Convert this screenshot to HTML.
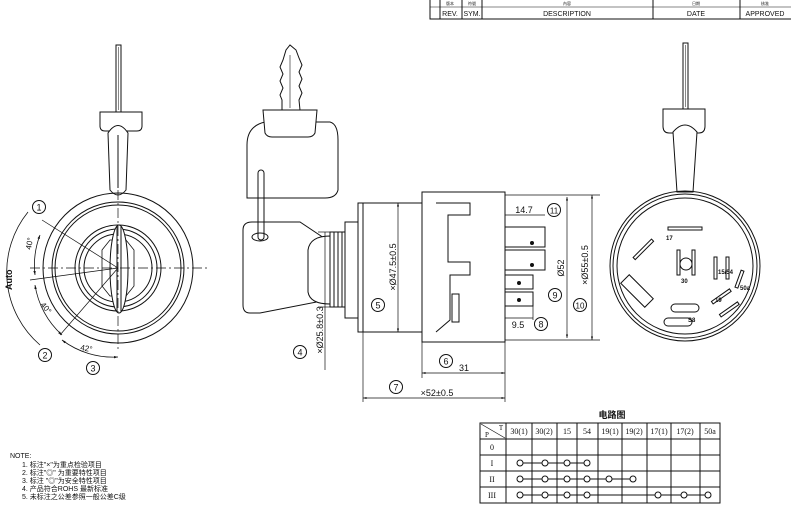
<!DOCTYPE html>
<html><head><meta charset="utf-8"><style>
html,body{margin:0;padding:0;background:#fff;}
svg{display:block;}
text{font-family:"Liberation Sans","Noto Sans CJK SC",sans-serif;fill:#111;}
</style></head><body>
<svg width="791" height="507" viewBox="0 0 791 507" xmlns="http://www.w3.org/2000/svg">
<defs>
<marker id="a" viewBox="0 0 10 10" refX="10" refY="5" markerWidth="5" markerHeight="5" orient="auto-start-reverse"><path d="M0 2 L10 5 L0 8 Z" fill="#111"/></marker>
</defs>
<g stroke="#111" fill="none" stroke-width="1">
<rect x="430" y="-1" width="362" height="20"/>
<line x1="430" y1="7" x2="791" y2="7" stroke-width="0.6"/>
<line x1="440" y1="0" x2="440" y2="19"/><line x1="462" y1="0" x2="462" y2="19"/>
<line x1="482" y1="0" x2="482" y2="19"/><line x1="653" y1="0" x2="653" y2="19"/>
<line x1="740" y1="0" x2="740" y2="19"/>
</g>
<g font-size="7" text-anchor="middle">
<text x="450" y="16">REV.</text><text x="472" y="16">SYM.</text>
<text x="567" y="16">DESCRIPTION</text><text x="696" y="16">DATE</text><text x="765" y="16">APPROVED</text>
<text x="450" y="5" font-size="4">版本</text><text x="472" y="5" font-size="4">符號</text><text x="567" y="5" font-size="4">內容</text><text x="696" y="5" font-size="4">日期</text><text x="765" y="5" font-size="4">核准</text>
</g>

<!-- LEFT VIEW -->
<g stroke="#111" fill="none" stroke-width="1">
<rect x="116" y="45" width="5" height="67"/>
<line x1="118.5" y1="47" x2="118.5" y2="110" stroke-width="0.5"/>
<path d="M100 112 H142 V126 Q142 131 137 131 H105 Q100 131 100 126 Z" fill="#fff"/>
<path d="M108 133 Q118 118 128 133 L126 190 Q118 200 110 190 Z" fill="#fff"/>
<line x1="118" y1="135" x2="118" y2="188"/>
<circle cx="118" cy="268" r="75"/>
<circle cx="118" cy="268" r="66"/>
<circle cx="118" cy="268" r="63"/>
<circle cx="118" cy="268" r="43"/>
<circle cx="118" cy="268" r="39"/>
<circle cx="118" cy="268" r="34"/>
<path d="M102 250 L110 240 L126 240 L134 250 V286 L126 296 L110 296 L102 286 Z" stroke-width="0.8"/>
<ellipse cx="119" cy="269" rx="9" ry="44" fill="#fff"/>
<line x1="117" y1="226" x2="117" y2="312"/><line x1="121" y1="226" x2="121" y2="312"/>
<line x1="30" y1="268" x2="210" y2="268" stroke-dasharray="10 3 2 3" stroke-width="0.7"/>
<line x1="118" y1="190" x2="118" y2="350" stroke-dasharray="10 3 2 3" stroke-width="0.7"/>
<line x1="42" y1="220" x2="118" y2="268" stroke-width="0.7"/>
<line x1="30" y1="280" x2="118" y2="268" stroke-width="0.7"/>
<line x1="60" y1="335" x2="118" y2="268" stroke-width="0.7"/>
<path d="M40 235 A85 85 0 0 0 35 275" stroke-width="0.8" marker-start="url(#a)" marker-end="url(#a)"/>
<path d="M35 285 A85 85 0 0 0 62 335" stroke-width="0.8" marker-start="url(#a)" marker-end="url(#a)"/>
<path d="M62 340 A85 85 0 0 0 118 357" stroke-width="0.8" marker-start="url(#a)" marker-end="url(#a)"/>
<path d="M28 212 A96 96 0 0 0 40 345" stroke-width="0.8"/>
<circle cx="39" cy="207" r="6.5"/><circle cx="45" cy="355" r="6.5"/><circle cx="93" cy="368" r="6.5"/>
</g>
<g font-size="9">
<text x="39" y="210.5" text-anchor="middle">1</text>
<text x="45" y="358.5" text-anchor="middle">2</text>
<text x="93" y="371.5" text-anchor="middle">3</text>
<text transform="translate(31,250) rotate(-80)" font-size="8">40°</text>
<text transform="translate(40,305) rotate(50)" font-size="8">40°</text>
<text transform="translate(80,350) rotate(10)" font-size="8">42°</text>
<text transform="translate(12,290) rotate(-90)" font-size="9" font-weight="bold">Auto</text>
</g>

<!-- MIDDLE VIEW -->
<g stroke="#111" fill="none" stroke-width="1">
<path d="M282 110 V100 L280 95 L283 88 L280 81 L283 74 L280 67 L283 60 L286 50 L290 45 L296 50 L299 58 L302 65 L299 72 L302 79 L299 86 L302 93 L299 100 L300 110" />
<line x1="290" y1="55" x2="290" y2="108" stroke-width="0.6"/>
<path d="M247 145 Q247 126 265 122 L330 122 Q338 124 338 140 V190 Q336 198 325 198 H247 Z" fill="#fff"/>
<path d="M263 110 H317 L315 133 Q313 137 308 137 H272 Q267 137 265 133 Z" fill="#fff"/>
<path d="M243 230 Q243 222 252 222 H300 L327 240 V300 L260 313 H250 Q243 313 243 305 Z" fill="#fff"/>
<rect x="258" y="170" width="6" height="70" rx="3"/>
<ellipse cx="260" cy="237" rx="8" ry="4"/>
<path d="M330 236 Q310 236 308 250 V292 Q310 304 330 304 Z" fill="#fff"/>
<rect x="330" y="232" width="15" height="75" fill="#fff"/>
<line x1="334" y1="232" x2="334" y2="307"/><line x1="338" y1="232" x2="338" y2="307"/><line x1="342" y1="232" x2="342" y2="307"/>
<rect x="345" y="222" width="13" height="96" fill="#fff"/>
<rect x="358" y="203" width="64" height="129" fill="#fff"/>
<line x1="363" y1="203" x2="363" y2="332"/>
<rect x="422" y="192" width="83" height="150" fill="#fff"/>
<path d="M436 203 H470 V215 H448 V262 H470 V275 H450 V320 L436 332" />
<rect x="452" y="294" width="7" height="28"/>
<rect x="505" y="227" width="40" height="20"/><rect x="505" y="250" width="40" height="20"/>
<rect x="505" y="275" width="28" height="14"/><rect x="505" y="292" width="28" height="14"/>
<circle cx="532" cy="243" r="1.5" fill="#111"/><circle cx="532" cy="265" r="1.5" fill="#111"/>
<circle cx="519" cy="283" r="1.5" fill="#111"/><circle cx="519" cy="300" r="1.5" fill="#111"/>
<g stroke-width="0.7">
<line x1="398" y1="203" x2="398" y2="332" marker-start="url(#a)" marker-end="url(#a)"/>
<line x1="505" y1="195" x2="600" y2="195"/><line x1="505" y1="340" x2="600" y2="340"/>
<line x1="567" y1="197" x2="567" y2="338" marker-start="url(#a)" marker-end="url(#a)"/>
<line x1="592" y1="195" x2="592" y2="340" marker-start="url(#a)" marker-end="url(#a)"/>
<line x1="505" y1="215" x2="545" y2="215"/>
<line x1="505" y1="318" x2="533" y2="318"/><line x1="533" y1="306" x2="533" y2="320"/>
<line x1="325" y1="232" x2="325" y2="370"/><line x1="318" y1="232" x2="330" y2="232"/><line x1="318" y1="307" x2="330" y2="307"/>
<line x1="422" y1="342" x2="422" y2="378"/><line x1="505" y1="342" x2="505" y2="402"/>
<line x1="363" y1="332" x2="363" y2="402"/>
<line x1="422" y1="373" x2="505" y2="373" marker-start="url(#a)" marker-end="url(#a)"/>
<line x1="363" y1="398" x2="505" y2="398" marker-start="url(#a)" marker-end="url(#a)"/>
</g>
<circle cx="300" cy="352" r="6.5"/><circle cx="378" cy="305" r="6.5"/><circle cx="446" cy="361" r="6.5"/>
<circle cx="396" cy="387" r="6.5"/><circle cx="541" cy="324" r="6.5"/><circle cx="555" cy="295" r="6.5"/>
<circle cx="580" cy="305" r="6.5"/><circle cx="554" cy="210" r="6.5"/>
</g>
<g font-size="9" text-anchor="middle">
<text x="300" y="355.5">4</text><text x="378" y="308.5">5</text><text x="446" y="364.5">6</text>
<text x="396" y="390.5">7</text><text x="541" y="327.5">8</text><text x="555" y="298.5">9</text>
<text x="580" y="308.5" font-size="8">10</text><text x="554" y="213.5" font-size="8">11</text>
<text x="524" y="213">14.7</text><text x="518" y="328">9.5</text><text x="464" y="371">31</text>
<text x="437" y="396">×52±0.5</text>
<text transform="translate(396,267) rotate(-90)">×Ø47.5±0.5</text>
<text transform="translate(564,268) rotate(-90)">Ø52</text>
<text transform="translate(588,265) rotate(-90)">×Ø55±0.5</text>
<text transform="translate(323,330) rotate(-90)">×Ø25.8±0.3</text>
</g>

<!-- RIGHT VIEW -->
<g stroke="#111" fill="none" stroke-width="1">
<rect x="683" y="43" width="5" height="66"/>
<line x1="685.5" y1="45" x2="685.5" y2="107" stroke-width="0.5"/>
<path d="M663 109 H705 V126 Q705 133 699 133 H669 Q663 133 663 126 Z" fill="#fff"/>
<path d="M673 132 Q685 118 697 132 L693 192 H677 Z" fill="#fff"/>
<circle cx="685" cy="266" r="75"/><circle cx="685" cy="266" r="72"/><circle cx="685" cy="266" r="68"/>
<rect x="668" y="227" width="34" height="3"/>
<rect x="642" y="236" width="3" height="26" transform="rotate(45 643 249)"/>
<rect x="677" y="250" width="3" height="25"/><rect x="692" y="250" width="3" height="25"/>
<circle cx="686" cy="264" r="6"/>
<rect x="714" y="257" width="3" height="22"/><rect x="726" y="257" width="3" height="22"/>
<rect x="738" y="270" width="3" height="18" transform="rotate(20 739 279)"/>
<rect x="631" y="274" width="12" height="34" transform="rotate(-45 637 291)"/>
<rect x="720" y="285" width="3" height="22" transform="rotate(55 721 296)"/>
<rect x="728" y="298" width="3" height="22" transform="rotate(55 729 309)"/>
<rect x="671" y="304" width="28" height="8" rx="4"/><rect x="664" y="318" width="28" height="8" rx="4"/>
</g>
<g font-size="6" font-weight="bold">
<text x="666" y="240">17</text><text x="681" y="283">30</text><text x="718" y="274">15/54</text>
<text x="740" y="290">50a</text><text x="715" y="302">19</text><text x="688" y="322">S8</text>
</g>

<!-- NOTES -->
<g font-size="7">
<text x="10" y="458">NOTE:</text>
<text x="22" y="467">1.  标注"×"为重点检验项目</text>
<text x="22" y="475">2.  标注"◎" 为重要特性项目</text>
<text x="22" y="483">3.  标注 "◎"为安全特性项目</text>
<text x="22" y="491">4.  产品符合ROHS 最新标准</text>
<text x="22" y="499">5.  未标注之公差参照一般公差C级</text>
</g>

<!-- CIRCUIT TABLE -->
<text x="612" y="418" font-size="9" text-anchor="middle" font-weight="bold">电路图</text>
<g stroke="#111" fill="none" stroke-width="1">
<rect x="480" y="423" width="240" height="80"/>
<line x1="480" y1="439" x2="720" y2="439"/><line x1="480" y1="455" x2="720" y2="455"/>
<line x1="480" y1="471" x2="720" y2="471"/><line x1="480" y1="487" x2="720" y2="487"/>
<line x1="506" y1="423" x2="506" y2="503"/><line x1="532" y1="423" x2="532" y2="503"/>
<line x1="557" y1="423" x2="557" y2="503"/><line x1="577" y1="423" x2="577" y2="503"/>
<line x1="598" y1="423" x2="598" y2="503"/><line x1="622" y1="423" x2="622" y2="503"/>
<line x1="647" y1="423" x2="647" y2="503"/><line x1="671" y1="423" x2="671" y2="503"/>
<line x1="700" y1="423" x2="700" y2="503"/>
<line x1="481" y1="424" x2="505" y2="438" stroke-width="0.7"/>
<line x1="520" y1="463" x2="587" y2="463"/>
<line x1="520" y1="479" x2="633" y2="479"/>
<line x1="520" y1="495" x2="708" y2="495"/>
</g>
<g fill="#fff" stroke="#111" stroke-width="1">
<circle cx="520" cy="463" r="3"/><circle cx="545" cy="463" r="3"/><circle cx="567" cy="463" r="3"/><circle cx="587" cy="463" r="3"/>
<circle cx="520" cy="479" r="3"/><circle cx="545" cy="479" r="3"/><circle cx="567" cy="479" r="3"/><circle cx="587" cy="479" r="3"/><circle cx="609" cy="479" r="3"/><circle cx="633" cy="479" r="3"/>
<circle cx="520" cy="495" r="3"/><circle cx="545" cy="495" r="3"/><circle cx="567" cy="495" r="3"/><circle cx="587" cy="495" r="3"/><circle cx="658" cy="495" r="3"/><circle cx="684" cy="495" r="3"/><circle cx="708" cy="495" r="3"/>
</g>
<g font-size="8" text-anchor="middle">
<text x="519" y="434" style="font-family:'Liberation Serif',serif">30(1)</text>
<text x="544" y="434" style="font-family:'Liberation Serif',serif">30(2)</text>
<text x="567" y="434" style="font-family:'Liberation Serif',serif">15</text>
<text x="587" y="434" style="font-family:'Liberation Serif',serif">54</text>
<text x="610" y="434" style="font-family:'Liberation Serif',serif">19(1)</text>
<text x="634" y="434" style="font-family:'Liberation Serif',serif">19(2)</text>
<text x="659" y="434" style="font-family:'Liberation Serif',serif">17(1)</text>
<text x="685" y="434" style="font-family:'Liberation Serif',serif">17(2)</text>
<text x="710" y="434" style="font-family:'Liberation Serif',serif">50a</text>
<text x="487" y="437" style="font-family:'Liberation Serif',serif" font-size="7">P</text>
<text x="501" y="430" style="font-family:'Liberation Serif',serif" font-size="7">T</text>
<text x="492" y="450" style="font-family:'Liberation Serif',serif">0</text>
<text x="492" y="466" style="font-family:'Liberation Serif',serif">I</text>
<text x="492" y="482" style="font-family:'Liberation Serif',serif">II</text>
<text x="492" y="498" style="font-family:'Liberation Serif',serif">III</text>
</g>
</svg>
</body></html>
